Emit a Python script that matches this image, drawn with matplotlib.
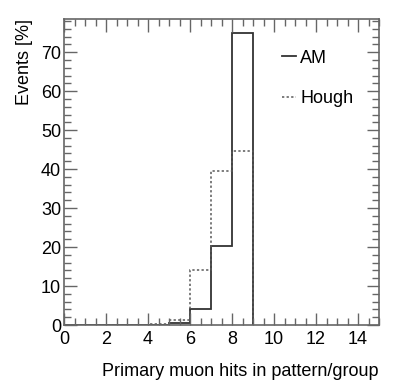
import numpy as np
import matplotlib.pyplot as plt
from matplotlib.ticker import MultipleLocator

plt.rcParams['font.family'] = ['Liberation Sans', 'DejaVu Sans']

# bin edges: primary muon hits in pattern/group
edges = [0, 1, 2, 3, 4, 5, 6, 7, 8, 9]
am = [0.1, 0.05, 0.05, 0.05, 0.1, 0.5, 4.0, 20.3, 74.8]
hough = [0.1, 0.05, 0.05, 0.05, 0.2, 1.3, 14.0, 39.4, 44.6]

fig = plt.figure(figsize=(3.99, 3.87), dpi=100)
ax = fig.add_axes([64/399, 1 - 325/387, (379-64)/399, (325-19)/387])

ax.stairs(am, edges, baseline=0, color='0.2', lw=1.3, label='AM')
ax.stairs(hough, edges, baseline=0, color='0.35', lw=1.1, ls=(0, (1.5, 1.5)), label='Hough')

ax.set_xlim(0, 15)
ax.set_ylim(0, 78.5)
ax.xaxis.set_major_locator(MultipleLocator(2))
ax.xaxis.set_minor_locator(MultipleLocator(0.5))
ax.yaxis.set_major_locator(MultipleLocator(10))
ax.yaxis.set_minor_locator(MultipleLocator(2))
ax.tick_params(which='both', direction='in', top=True, right=True,
               color='0.4', width=1, labelsize=13)
ax.tick_params(which='major', length=9)
ax.tick_params(which='minor', length=5)
ax.tick_params(axis='y', pad=2)
ax.tick_params(axis='x', pad=4)
for s in ax.spines.values():
    s.set_color('0.4')
    s.set_linewidth(1.2)

ax.set_xlabel('Primary muon hits in pattern/group', fontsize=13, loc='right', labelpad=11)
ax.set_ylabel('Events [%]', fontsize=13, loc='top', labelpad=6)

ax.legend(loc='upper left', bbox_to_anchor=(0.692, 0.90), frameon=False, fontsize=13,
          borderpad=0, borderaxespad=0, handlelength=0.8, handletextpad=0.2,
          labelspacing=1.3)

fig.savefig('out.png', dpi=100)
